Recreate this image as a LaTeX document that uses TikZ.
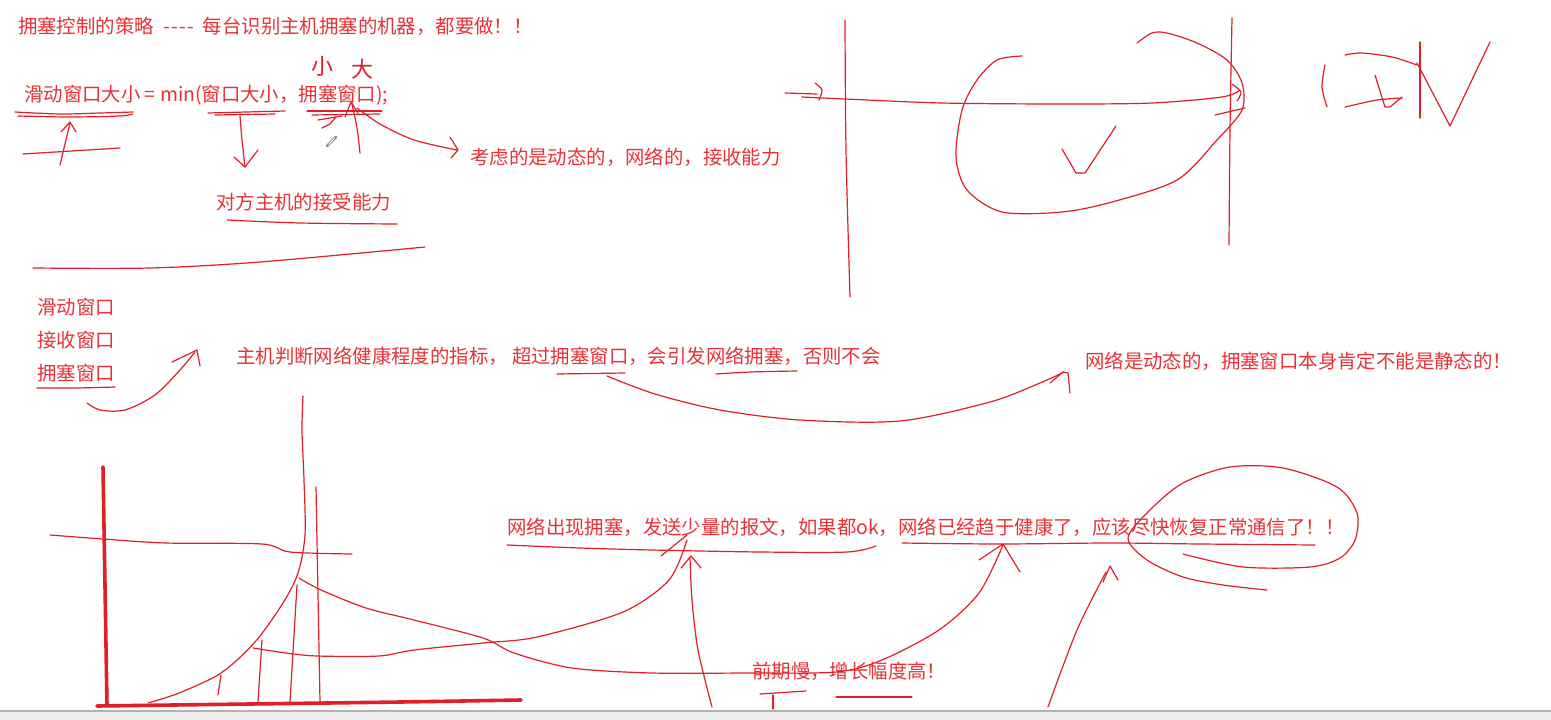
\documentclass[tikz,border=0pt]{standalone}
\usepackage{fontspec}
\setmainfont{Noto Sans CJK SC}
\definecolor{inkred}{RGB}{226,30,38}
\definecolor{txtred}{RGB}{232,50,55}
\begin{document}
\begin{tikzpicture}[x=1pt,y=-1pt,
  ink/.style={draw=inkred,line width=1.2pt,line cap=round,line join=round},
  axis/.style={draw=inkred,line width=3.6pt,line cap=round},
  txt/.style={anchor=west,inner sep=0pt,text=txtred,font=\fontsize{19.4}{22}\selectfont},
  hand/.style={inner sep=0pt,text=inkred,font=\fontsize{22}{24}\selectfont}]
\fill[white] (0,0) rectangle (1551,720);
\useasboundingbox (0,0) rectangle (1551,720);
% bottom bar
\fill[black!7] (0,711) rectangle (1551,720);
\draw[black!30,line width=1.2pt] (0,711)--(1551,711);

% ---------- texts ----------
\node[txt] (t1) at (18,26) {拥塞控制的策略\hspace{10pt}-\kern1pt-\kern1pt-\kern1pt-\hspace{9pt}每台识别主机拥塞的机器，都要做！！};
\node[txt] (t2) at (24,95) {滑动窗口大小 = min(窗口大小，拥塞窗口);};
\node[txt] (t3) at (470,157) {考虑的是动态的，网络的，接收能力};
\node[txt] (t4) at (216,202) {对方主机的接受能力};
\node[txt] (l1) at (37,307) {滑动窗口};
\node[txt] (l2) at (37,340) {接收窗口};
\node[txt] (l3) at (37,373) {拥塞窗口};
\node[txt] (t6) at (236,356) {主机判断网络健康程度的指标， 超过拥塞窗口，会引发网络拥塞，否则不会};
\node[txt] (t7) at (1085,361) {网络是动态的，拥塞窗口本身肯定不能是静态的！};
\node[txt] (t8) at (507,527) {网络出现拥塞，发送少量的报文，如果都ok，网络已经趋于健康了，应该尽快恢复正常通信了！！};
\node[txt] (t9) at (752,671) {前期慢，增长幅度高！};
\node[hand] (xiao) at (322,66) {小};
\node[hand] (da) at (362,69) {大};

% ---------- top-left strokes ----------
\draw[ink] plot[smooth] coordinates {(15,112)(60,114)(100,113)(133,112)};
\draw[ink] plot[smooth] coordinates {(18,116)(70,117)(120,116)(133,114)};
\draw[ink] (60,165)--(70,123);
\draw[ink] (61,132)--(70,122)--(76,132);
\draw[ink] (23,154)--(120,148);
\draw[ink] (208,113)--(285,111);
\draw[ink] (215,115)--(275,114);
\draw[ink] plot[smooth] coordinates {(240,116)(242,140)(245,167)};
\draw[ink] (234,157)--(245,167)--(258,150);
\draw[ink] (307,111)--(382,111);
\draw[ink] (312,115)--(380,114);
\draw[ink] (318,120)--(342,116);
\draw[ink] (322,128)--(330,124)--(336,117);
\draw[ink] plot[smooth] coordinates {(360,153)(357,128)(352,104)};
\draw[ink] (345,117)--(351,102)--(358,113);
\draw[ink] plot[smooth] coordinates {(357,108)(380,124)(414,140)(457,150)};
\draw[ink] (450,137)--(458,150)--(451,158);
% pencil cursor
\draw[black!45,line width=2.6pt,line cap=round] (327,146)--(336,137);
\draw[white,line width=1pt] (328.5,144.5)--(334.5,138.5);
\draw[ink] plot[smooth] coordinates {(227,220)(300,223)(397,224)};
\draw[ink] plot[smooth] coordinates {(33,268)(150,268)(260,262)(425,247)};

% ---------- top-right strokes ----------
\draw[ink] plot[smooth] coordinates {(845,20)(846,150)(850,297)};
\draw[ink] plot[smooth] coordinates {(1232,18)(1230,130)(1229,245)};
\draw[ink] plot[smooth] coordinates {(802,97)(845,99)(942,103)(1062,104)(1152,103)(1222,97)(1240,90)};
\draw[ink] (785,93)--(817,94);
\draw[ink] plot[smooth] coordinates {(815,83)(822,90)(819,100)};
\draw[ink] plot[smooth] coordinates {(1232,84)(1241,92)(1237,101)};
\draw[ink] (1215,115)--(1245,108);
\draw[ink] plot[smooth] coordinates {(1022,56)(997,60)(977,80)(962,110)(956,157)(967,190)(1002,212)(1062,212)(1112,202)(1177,180)(1217,140)(1242,110)(1242,83)(1227,60)(1197,43)(1167,33)(1152,33)(1137,43)};
\draw[ink] (1062,149)--(1076,173)--(1085,173)--(1116,126);
\draw[ink] plot[smooth] coordinates {(1325,65)(1322,87)(1327,107)};
\draw[ink] plot[smooth] coordinates {(1345,55)(1362,53)(1392,57)(1417,65)};
\draw[ink] plot[smooth] coordinates {(1345,107)(1377,100)(1402,98)};
\draw[ink] (1375,75)--(1385,107)--(1390,107)--(1402,97);
\draw[ink] (1420,42)--(1420,118);
\draw[ink] (1417,63)--(1450,126)--(1490,42);

% ---------- middle strokes ----------
\draw[ink] plot[smooth] coordinates {(37,388)(75,388)(115,387)};
\draw[ink] plot[smooth] coordinates {(87,403)(100,410)(125,410)(155,395)(180,370)(195,352)};
\draw[ink] (172,362)--(197,350)--(200,366);
\draw[ink] (557,374)--(625,373);
\draw[ink] plot[smooth] coordinates {(716,374)(750,372)(797,371)};
\draw[ink] plot[smooth] coordinates {(607,376)(655,394)(720,410)(800,420)(900,421)(990,402)(1040,383)(1064,372)};
\draw[ink] (1050,383)--(1063,372)--(1068,373)--(1070,393);

% ---------- chart ----------
\draw[axis] (103,467)--(107,705);
\draw[axis] plot[smooth] coordinates {(97,706)(250,704)(400,702)(521,700)};
\draw[ink] plot[smooth] coordinates {(50,535)(103,539)(166,543)(262,544)(290,552)(352,554)};
\draw[ink] plot[smooth] coordinates {(303,396)(302,430)(304,480)(305,535)(298,573)(283,603)(255,642)(221,673)(179,693)(148,703)};
\draw[ink] (316,487)--(320,702);
\draw[ink] (297,585)--(290,702);
\draw[ink] (262,640)--(258,702);
\draw[ink] (221,675)--(218,695);
\draw[ink] plot[smooth] coordinates {(253,648)(286,653)(317,656)(379,656)(414,650)(483,643)(537,637)(623,612)(669,580)(687,540)};
\draw[ink] (661,556)--(687,535);
\draw[ink] plot[smooth] coordinates {(299,578)(321,590)(366,608)(414,620)(483,638)(514,653)(572,668)(652,673)(744,673)(836,672)(882,660)(939,630)(979,593)(1003,545)};
\draw[ink] (979,560)--(1003,544)--(1020,572);
\draw[ink] plot[smooth] coordinates {(712,707)(698,650)(692,600)(690,558)};
\draw[ink] (681,568)--(691,556)--(701,568);
\draw[ink] plot[smooth] coordinates {(1048,707)(1077,630)(1106,572)};
\draw[ink] (1103,582)--(1110,566)--(1118,580);
\draw[ink] plot[smooth] coordinates {(507,545)(580,548)(652,550)(760,552)(847,552)(876,546)};
\draw[ink] plot[smooth] coordinates {(902,543)(1000,544)(1111,543)(1200,544)(1315,545)};
\draw[ink] plot[smooth] coordinates {(1183,554)(1243,567)(1310,567)(1340,558)(1355,540)(1357,513)(1337,487)(1283,468)(1230,467)(1183,483)(1150,510)(1128,538)(1147,560)(1183,577)(1223,585)(1267,590)};
\draw[ink] (760,694)--(806,691);
\draw[ink] (773,695)--(773,709);
\draw[ink] (836,697)--(912,697);
\end{tikzpicture}
\end{document}
